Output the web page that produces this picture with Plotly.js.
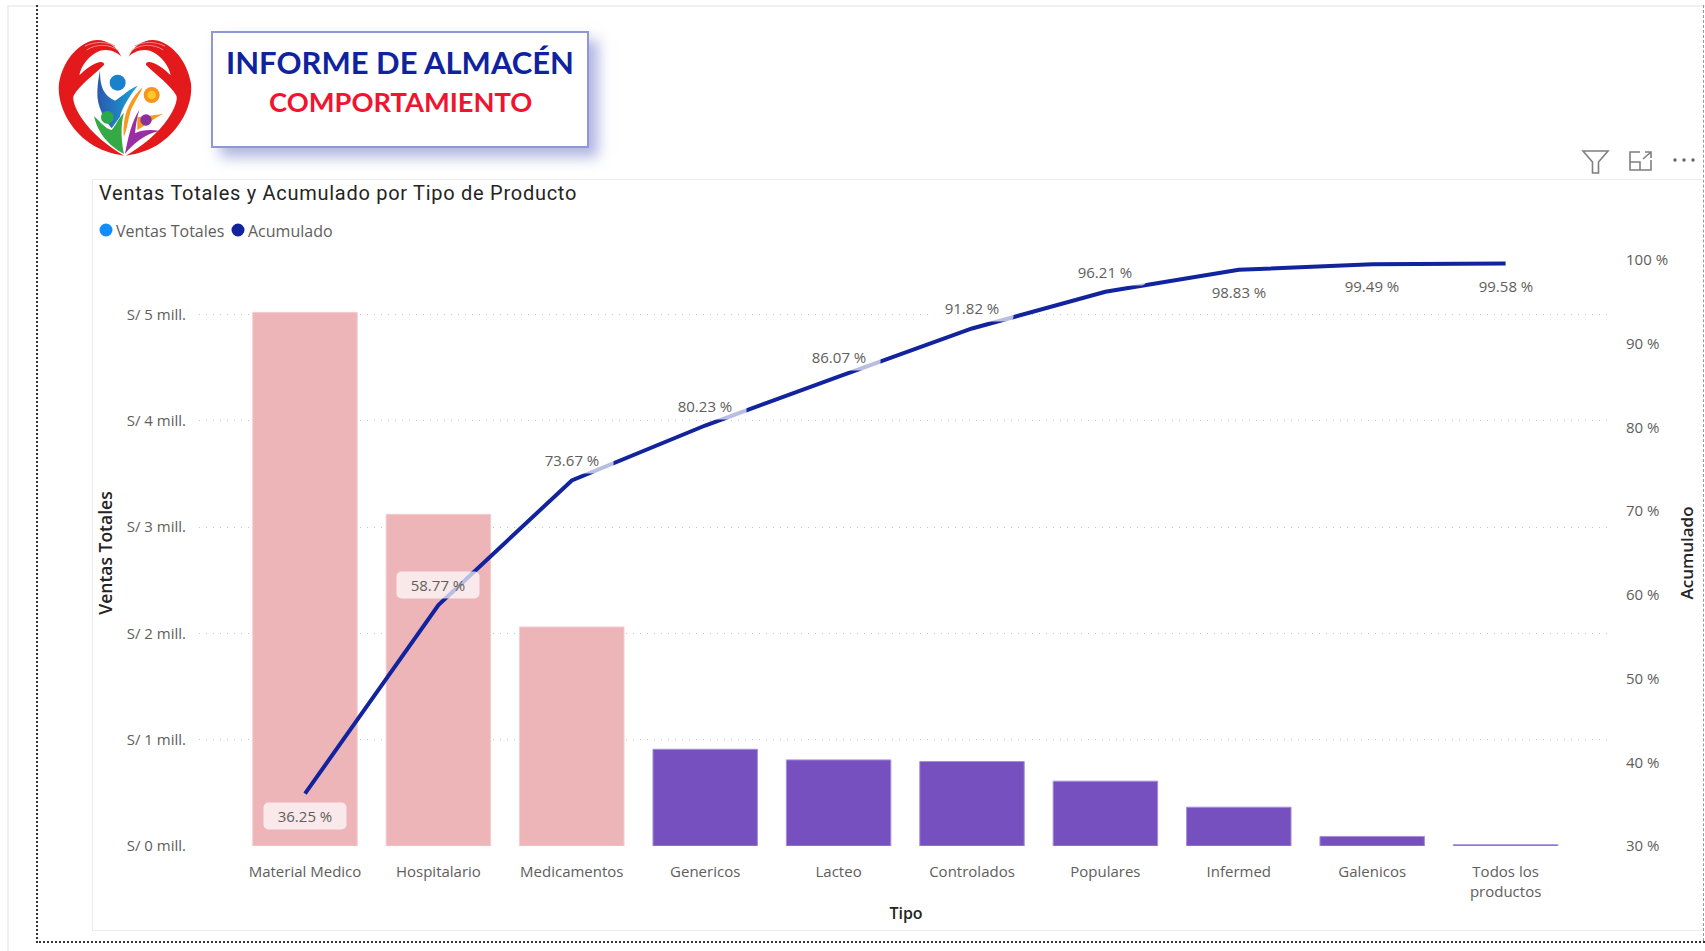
<!DOCTYPE html>
<html lang="es">
<head>
<meta charset="utf-8">
<title>Informe de Almacén</title>
<script src="https://cdn.plot.ly/plotly-3.0.1.min.js"></script>
<style>
html,body{margin:0;padding:0;width:1705px;height:951px;background:#fff;overflow:hidden;}
.abs{position:absolute;box-sizing:border-box;}
#plot{position:absolute;left:0;top:0;width:1705px;height:951px;}
</style>
</head>
<body>
<div class="abs" style="left:8px;top:5px;width:1697px;height:2px;background:#f0f0f0"></div>
<div class="abs" style="left:7px;top:5px;width:2px;height:946px;background:#eeeeee"></div>
<div class="abs" style="left:36px;top:5px;width:0;height:938px;border-left:2px dotted #333"></div>
<div class="abs" style="left:36px;top:941px;width:1669px;height:0;border-top:2px dotted #333"></div>
<div class="abs" style="left:1703px;top:5px;width:0;height:936px;border-left:1px dashed #999"></div>
<div class="abs" style="left:92px;top:179px;width:1610px;height:752px;border:1px solid #ececec;border-right:none"></div>
<div class="abs" style="left:211px;top:31px;width:378px;height:117px;border:2px solid #8f98d2;background:#fff;box-shadow:9px 9px 13px rgba(110,120,200,.55)"></div>

<svg class="abs" style="left:50px;top:30px" width="150" height="135" viewBox="0 0 450 405">
  <defs>
    <linearGradient id="azul" x1="0" x2="1" y1="0" y2="0"><stop offset="0" stop-color="#2b58ae"/><stop offset="1" stop-color="#17a5da"/></linearGradient>
    <g id="mano">
      <path fill="#e3191c" d="M214 80C200 45 160 22 125 32C80 45 38 95 27 160C20 225 60 300 120 340C150 360 185 372 222 377C175 350 125 310 95 265C75 235 65 205 72 195C90 165 125 140 162 105C164 95 150 90 122 108C108 117 98 126 88 136C92 110 115 75 150 62C175 55 200 65 214 80Z"/>
      <path fill="none" stroke="#f08a8a" stroke-width="3" d="M205 62C180 42 140 40 110 60M195 48C170 34 135 34 105 48"/>
    </g>
  </defs>
  <use href="#mano"/>
  <use href="#mano" transform="translate(450,0) scale(-1,1)"/>
  <circle cx="203" cy="158" r="24" fill="#1a82cb"/>
  <path fill="url(#azul)" d="M150 122C150 170 160 195 195 212C215 200 240 175 263 167C240 195 215 235 210 260L185 295C165 270 140 230 142 185C143 160 146 140 150 122Z"/>
  <circle cx="305" cy="195" r="24" fill="#f7931e"/><circle cx="305" cy="195" r="13" fill="#ffc928"/>
  <path fill="#f7981f" d="M278 172C240 205 215 260 222 320C235 290 235 250 250 225C260 205 272 190 278 172Z"/>
  <path fill="#f7981f" d="M262 262L340 252C310 265 290 285 262 300Z"/>
  <circle cx="172" cy="262" r="19" fill="#2aa84a"/>
  <path fill="#35a945" d="M132 258C150 275 165 295 185 300C195 290 205 265 222 248C210 290 215 340 222 372C190 355 145 320 132 258Z"/>
  <circle cx="288" cy="270" r="17" fill="#8a2f9e"/>
  <path fill="#9a2fa5" d="M268 240C245 275 235 320 225 372C245 345 285 310 330 303C300 298 275 300 255 310C258 285 260 265 268 240Z"/>
</svg>

<svg class="abs" style="left:1580px;top:148px" width="120" height="28" viewBox="0 0 120 28" fill="none" stroke="#7f7f7f" stroke-width="1.6">
  <path d="M3 3H28L18.5 14V25H12.5V14Z"/>
  <path d="M60 4H50V22H71V12M50 14H60V22M63 11L71 4M65 4H71V10"/>
  <circle cx="95" cy="12" r="1.7" fill="#666" stroke="none"/><circle cx="104" cy="12" r="1.7" fill="#666" stroke="none"/><circle cx="113" cy="12" r="1.7" fill="#666" stroke="none"/>
</svg>

<div id="plot"></div>
<script>
const categorias = ["Material Medico","Hospitalario","Medicamentos","Genericos","Lacteo","Controlados","Populares","Infermed","Galenicos","Todos los<br>productos"];
const ventasTotales = [5.02,3.12,2.06,0.91,0.81,0.795,0.61,0.365,0.09,0.012];
const acumulado = [36.25,58.77,73.67,80.23,86.07,91.82,96.21,98.83,99.49,99.58];
const ticksVentas = [0,1,2,3,4,5];
const etiquetasVentas = ["S/ 0 mill.","S/ 1 mill.","S/ 2 mill.","S/ 3 mill.","S/ 4 mill.","S/ 5 mill."];
const ticksAcumulado = [30,40,50,60,70,80,90,100];
const etiquetasAcumulado = ["30 %","40 %","50 %","60 %","70 %","80 %","90 %","100 %"];
const tipoColor = ["a","a","a","b","b","b","b","b","b","b"];
const etiquetaAbajo = [true,false,false,false,false,false,false,true,true,true];

const L=199,R=1607,T=260,B=846;
const fx=p=>(p-L)/(R-L), fy=p=>(B-p)/(B-T);
const FONT='"Open Sans", sans-serif';
const txt=(text,xp,yp,size,color,family,anchor,extra)=>Object.assign({text,x:fx(xp),y:fy(yp),xref:'paper',yref:'paper',xanchor:anchor||'left',yanchor:'middle',showarrow:false,font:{size,color,family}},extra||{});
const circ=(cx,cy,r,color)=>({type:'circle',xref:'paper',yref:'paper',x0:fx(cx-r),x1:fx(cx+r),y0:fy(cy+r),y1:fy(cy-r),fillcolor:color,line:{width:0}});

const barras={type:'bar',x:categorias.map((_,i)=>i),y:ventasTotales,name:'Ventas Totales',width:0.783,
  marker:{color:tipoColor.map(t=>t==='a'?'#EEB5B9':'#7550BE'),line:{width:1,color:tipoColor.map(t=>t==='a'?'#F3CCCE':'#A68FDA')}},
  showlegend:false,hoverinfo:'skip'};
const linea={type:'scatter',mode:'lines',x:categorias.map((_,i)=>i),y:acumulado,yaxis:'y2',name:'Acumulado',
  line:{color:'#12239E',width:4,shape:'linear'},showlegend:false,hoverinfo:'skip'};

const etiquetas=acumulado.map((v,i)=>({x:i,y:v,xref:'x',yref:'y2',text:v.toFixed(2)+' %',showarrow:false,xanchor:'center',yanchor:'middle',
  yshift:etiquetaAbajo[i]?-22:20,width:80,height:24,align:'center',valign:'middle',bgcolor:'rgba(255,255,255,0.7)',
  font:{size:15,color:'#605E5C',family:FONT}}));

const layout={
  width:1705,height:951,paper_bgcolor:'rgba(0,0,0,0)',plot_bgcolor:'rgba(0,0,0,0)',
  margin:{l:L,r:1705-R,t:T,b:951-B,pad:0},bargap:0.2,showlegend:false,
  xaxis:{type:'linear',range:[(L-305)/133.4,(R-305)/133.4],tickmode:'array',tickvals:categorias.map((_,i)=>i),ticktext:categorias,
    showgrid:false,zeroline:false,showline:false,ticks:'',tickangle:0,ticklabelstandoff:15,
    tickfont:{size:15,color:'#605E5C',family:FONT},
    title:{text:'Tipo',standoff:8,font:{size:16,color:'#252423',family:FONT,weight:600}}},
  yaxis:{range:[0,(B-T)/106.3],tickmode:'array',tickvals:ticksVentas,ticktext:etiquetasVentas,
    showgrid:true,gridcolor:'#C4C4C4',gridwidth:1,griddash:'1px,6px',zeroline:false,showline:false,ticks:'',ticklabelstandoff:12,
    tickfont:{size:15,color:'#605E5C',family:FONT},
    title:{text:'Ventas Totales',standoff:9,font:{size:17.5,color:'#252423',family:FONT,weight:600}}},
  yaxis2:{overlaying:'y',side:'right',range:[30,100],tickmode:'array',tickvals:ticksAcumulado,ticktext:etiquetasAcumulado,
    showgrid:false,zeroline:false,showline:false,ticks:'',ticklabelstandoff:18,
    tickfont:{size:15,color:'#605E5C',family:FONT},
    title:{text:'Acumulado',standoff:14,font:{size:17,color:'#252423',family:FONT,weight:600}}},
  shapes:[circ(106,230,6.5,'#118DFF'),circ(238,230,6.5,'#12239E')],
  annotations:etiquetas.concat([
    txt('<b>INFORME DE ALMACÉN</b>',400,62,31,'#10239E','Lato','center',{}),
    txt('<b>COMPORTAMIENTO</b>',400,101,27.3,'#F0142F','Lato','center',{}),
    txt('Ventas Totales y Acumulado por Tipo de Producto',114,193,20,'#252423','Roboto','left',{}),
    txt('Ventas Totales',114,231,16,'#605E5C',FONT,'left',{}),
    txt('Acumulado',246,231,16,'#605E5C',FONT,'left',{})
  ])
};
Plotly.newPlot('plot',[barras,linea],layout,{displayModeBar:false,staticPlot:true}).then(gd=>{
  gd.querySelectorAll('.annotation rect.bg').forEach(r=>{r.setAttribute('rx','5');r.setAttribute('ry','5');});
  gd.querySelectorAll('.annotation-text').forEach(t=>{
    if(t.textContent.startsWith('Ventas Totales y')) t.style.letterSpacing='0.72px';
  });
  const xt=gd.querySelector('.xtitle');
  if(xt) xt.setAttribute('transform','translate(3,0)');
});
</script>
</body>
</html>
